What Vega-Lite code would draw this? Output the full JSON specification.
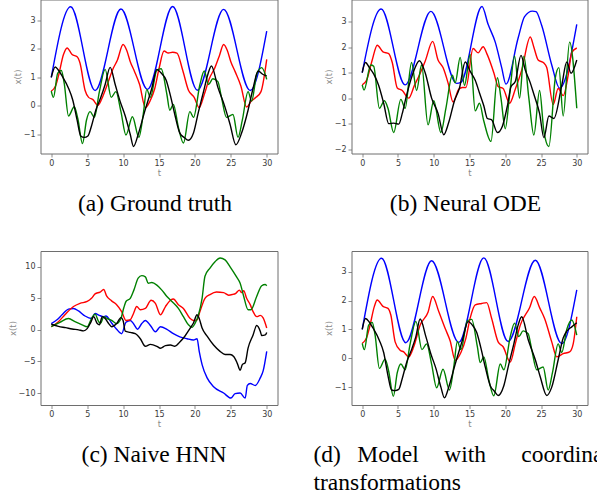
{
"$schema": "https://vega.github.io/schema/vega-lite/v6.json",
"background": "white",
"padding": {"left": 7.5, "top": -1.5, "right": 0, "bottom": 0},
"columns": 2,
"bounds": "flush",
"spacing": {"row": 97.5, "column": 74},
"config": {
  "view": {"stroke": "#6e6e6e", "strokeWidth": 1},
  "axis": {"grid": false, "domain": false, "tickColor": "#6e6e6e", "tickSize": 3.5, "tickWidth": 0.8, "labelFont": "DejaVu Sans", "labelFontSize": 8, "labelColor": "#3a3a3a", "labelPadding": 2, "titleFont": "DejaVu Sans", "titleFontSize": 8.5, "titleFontWeight": "normal", "titleColor": "#8a8a8a", "titlePadding": 1, "labelFlush": false, "labelOverlap": false},
  "title": {"orient": "bottom", "font": "Liberation Serif", "fontSize": 23.5, "fontWeight": "normal", "color": "#000000", "anchor": "middle", "frame": "group", "baseline": "alphabetic", "offset": 15}
},
"datasets": {
"a": [
{"s":"b","t":0,"v":1.0},{"s":"b","t":2.7,"v":3.47},{"s":"b","t":6.1,"v":0.54},{"s":"b","t":9.7,"v":3.39},{"s":"b","t":13.4,"v":0.58},{"s":"b","t":16.9,"v":3.48},{"s":"b","t":20.35,"v":0.55},{"s":"b","t":24.0,"v":3.38},{"s":"b","t":27.7,"v":0.54},{"s":"b","t":30,"v":2.62},
{"s":"r","t":0,"v":0.52},{"s":"r","t":0.6,"v":0.7},{"s":"r","t":1.0,"v":1.05},{"s":"r","t":1.7,"v":1.8},{"s":"r","t":2.2,"v":2.03},{"s":"r","t":2.9,"v":1.8},{"s":"r","t":3.6,"v":1.72},{"s":"r","t":4.0,"v":1.5},{"s":"r","t":4.7,"v":0.55},{"s":"r","t":5.2,"v":0.3},{"s":"r","t":5.8,"v":0.22},{"s":"r","t":6.5,"v":0.02},{"s":"r","t":7.2,"v":0.35},{"s":"r","t":7.8,"v":0.75},{"s":"r","t":8.6,"v":1.3},{"s":"r","t":9.2,"v":1.6},{"s":"r","t":10.0,"v":2.15},{"s":"r","t":10.5,"v":1.95},{"s":"r","t":11.0,"v":1.55},{"s":"r","t":11.6,"v":1.2},{"s":"r","t":12.3,"v":0.75},{"s":"r","t":13.1,"v":-0.06},{"s":"r","t":13.8,"v":0.2},{"s":"r","t":14.4,"v":0.6},{"s":"r","t":15.0,"v":1.3},{"s":"r","t":15.7,"v":1.92},{"s":"r","t":16.3,"v":1.85},{"s":"r","t":16.9,"v":1.88},{"s":"r","t":17.5,"v":1.85},{"s":"r","t":18.3,"v":1.25},{"s":"r","t":19.1,"v":0.55},{"s":"r","t":19.9,"v":0.3},{"s":"r","t":20.6,"v":-0.06},{"s":"r","t":21.3,"v":0.4},{"s":"r","t":22.0,"v":0.95},{"s":"r","t":22.8,"v":1.35},{"s":"r","t":23.4,"v":1.75},{"s":"r","t":24.0,"v":2.15},{"s":"r","t":24.5,"v":1.95},{"s":"r","t":25.0,"v":1.55},{"s":"r","t":25.6,"v":1.2},{"s":"r","t":26.4,"v":0.7},{"s":"r","t":27.2,"v":-0.04},{"s":"r","t":27.8,"v":0.15},{"s":"r","t":28.5,"v":0.3},{"s":"r","t":29.2,"v":0.5},{"s":"r","t":30,"v":1.63},
{"s":"g","t":0,"v":0.52},{"s":"g","t":0.3,"v":0.3},{"s":"g","t":0.9,"v":1.15},{"s":"g","t":1.4,"v":1.24},{"s":"g","t":1.8,"v":0.8},{"s":"g","t":2.4,"v":-0.35},{"s":"g","t":3.2,"v":-0.03},{"s":"g","t":3.7,"v":-0.45},{"s":"g","t":4.35,"v":-1.32},{"s":"g","t":4.9,"v":-0.5},{"s":"g","t":5.4,"v":-0.2},{"s":"g","t":6.0,"v":-0.4},{"s":"g","t":6.7,"v":0.5},{"s":"g","t":7.5,"v":1.28},{"s":"g","t":8.35,"v":0.3},{"s":"g","t":9.0,"v":0.5},{"s":"g","t":9.7,"v":-0.2},{"s":"g","t":10.4,"v":-1.02},{"s":"g","t":11.3,"v":-0.38},{"s":"g","t":12.2,"v":-1.1},{"s":"g","t":12.8,"v":-0.3},{"s":"g","t":13.3,"v":0.58},{"s":"g","t":13.8,"v":0.3},{"s":"g","t":14.7,"v":1.25},{"s":"g","t":15.3,"v":1.3},{"s":"g","t":16.1,"v":0.4},{"s":"g","t":16.5,"v":-0.15},{"s":"g","t":17.0,"v":0.05},{"s":"g","t":17.7,"v":-0.75},{"s":"g","t":18.4,"v":-1.3},{"s":"g","t":19.3,"v":-0.2},{"s":"g","t":19.8,"v":-0.4},{"s":"g","t":20.7,"v":0.75},{"s":"g","t":21.3,"v":1.22},{"s":"g","t":21.9,"v":0.75},{"s":"g","t":22.5,"v":0.95},{"s":"g","t":23.2,"v":0.85},{"s":"g","t":23.7,"v":0.3},{"s":"g","t":24.4,"v":-0.4},{"s":"g","t":25.3,"v":-0.3},{"s":"g","t":26.0,"v":-1.1},{"s":"g","t":26.6,"v":-0.5},{"s":"g","t":27.4,"v":0.5},{"s":"g","t":27.9,"v":0.17},{"s":"g","t":28.6,"v":1.1},{"s":"g","t":29.3,"v":1.34},{"s":"g","t":30,"v":0.93},
{"s":"k","t":0,"v":1.0},{"s":"k","t":0.55,"v":1.36},{"s":"k","t":1.0,"v":1.25},{"s":"k","t":1.5,"v":1.05},{"s":"k","t":2.4,"v":0.62},{"s":"k","t":3.0,"v":0.2},{"s":"k","t":3.6,"v":-0.5},{"s":"k","t":4.1,"v":-1.05},{"s":"k","t":4.6,"v":-1.1},{"s":"k","t":5.1,"v":-1.05},{"s":"k","t":5.6,"v":-0.7},{"s":"k","t":6.2,"v":-0.15},{"s":"k","t":6.9,"v":0.3},{"s":"k","t":7.5,"v":0.75},{"s":"k","t":8.2,"v":1.35},{"s":"k","t":8.9,"v":0.75},{"s":"k","t":9.6,"v":0.15},{"s":"k","t":10.3,"v":-0.35},{"s":"k","t":11.0,"v":-1.0},{"s":"k","t":11.45,"v":-1.42},{"s":"k","t":12.1,"v":-1.0},{"s":"k","t":13.0,"v":-0.2},{"s":"k","t":14.0,"v":0.62},{"s":"k","t":14.7,"v":1.28},{"s":"k","t":15.3,"v":1.15},{"s":"k","t":16.0,"v":0.9},{"s":"k","t":16.6,"v":0.35},{"s":"k","t":17.2,"v":-0.3},{"s":"k","t":17.9,"v":-0.95},{"s":"k","t":18.5,"v":-1.1},{"s":"k","t":19.1,"v":-1.2},{"s":"k","t":19.8,"v":-0.95},{"s":"k","t":20.5,"v":-0.2},{"s":"k","t":21.2,"v":0.5},{"s":"k","t":21.8,"v":1.1},{"s":"k","t":22.3,"v":1.4},{"s":"k","t":23.2,"v":0.65},{"s":"k","t":24.2,"v":-0.05},{"s":"k","t":24.9,"v":-0.65},{"s":"k","t":25.7,"v":-1.36},{"s":"k","t":26.5,"v":-0.95},{"s":"k","t":27.4,"v":-0.15},{"s":"k","t":28.1,"v":0.62},{"s":"k","t":28.8,"v":1.22},{"s":"k","t":29.5,"v":1.1},{"s":"k","t":30,"v":1.05}
],
"b": [
{"s":"b","t":0,"v":1.0},{"s":"b","t":2.65,"v":3.5},{"s":"b","t":6.0,"v":0.52},{"s":"b","t":9.6,"v":3.41},{"s":"b","t":13.2,"v":0.58},{"s":"b","t":13.8,"v":0.62},{"s":"b","t":16.75,"v":3.6},{"s":"b","t":17.6,"v":2.9},{"s":"b","t":18.6,"v":2.2},{"s":"b","t":19.5,"v":1.2},{"s":"b","t":20.1,"v":0.55},{"s":"b","t":21.8,"v":2.36},{"s":"b","t":22.7,"v":3.2},{"s":"b","t":23.8,"v":3.42},{"s":"b","t":24.3,"v":3.4},{"s":"b","t":25.1,"v":2.85},{"s":"b","t":26.5,"v":1.3},{"s":"b","t":27.6,"v":0.39},{"s":"b","t":30,"v":2.9},
{"s":"r","t":0,"v":0.52},{"s":"r","t":0.6,"v":0.7},{"s":"r","t":1.4,"v":1.5},{"s":"r","t":2.1,"v":2.08},{"s":"r","t":2.9,"v":1.82},{"s":"r","t":3.7,"v":1.75},{"s":"r","t":4.2,"v":1.4},{"s":"r","t":4.9,"v":0.4},{"s":"r","t":5.6,"v":0.3},{"s":"r","t":6.5,"v":0.0},{"s":"r","t":7.3,"v":0.5},{"s":"r","t":7.9,"v":0.85},{"s":"r","t":8.8,"v":1.45},{"s":"r","t":9.85,"v":2.23},{"s":"r","t":10.6,"v":1.5},{"s":"r","t":11.3,"v":1.2},{"s":"r","t":12.0,"v":0.6},{"s":"r","t":12.7,"v":-0.15},{"s":"r","t":13.5,"v":0.35},{"s":"r","t":14.0,"v":0.42},{"s":"r","t":14.5,"v":0.42},{"s":"r","t":15.5,"v":1.95},{"s":"r","t":16.2,"v":1.78},{"s":"r","t":16.9,"v":2.02},{"s":"r","t":17.5,"v":1.7},{"s":"r","t":18.4,"v":1.0},{"s":"r","t":19.0,"v":0.46},{"s":"r","t":19.7,"v":0.38},{"s":"r","t":20.6,"v":-0.2},{"s":"r","t":21.4,"v":0.35},{"s":"r","t":22.3,"v":1.1},{"s":"r","t":23.5,"v":2.4},{"s":"r","t":24.0,"v":2.0},{"s":"r","t":24.6,"v":1.5},{"s":"r","t":25.4,"v":1.38},{"s":"r","t":25.8,"v":1.2},{"s":"r","t":26.7,"v":-0.25},{"s":"r","t":27.4,"v":0.38},{"s":"r","t":28.1,"v":0.1},{"s":"r","t":28.8,"v":0.9},{"s":"r","t":29.3,"v":1.8},{"s":"r","t":30,"v":1.97},
{"s":"g","t":0,"v":0.52},{"s":"g","t":0.25,"v":0.32},{"s":"g","t":1.2,"v":1.3},{"s":"g","t":1.6,"v":1.25},{"s":"g","t":2.4,"v":-0.4},{"s":"g","t":3.1,"v":-0.1},{"s":"g","t":3.6,"v":-0.4},{"s":"g","t":4.4,"v":-1.35},{"s":"g","t":5.4,"v":-0.05},{"s":"g","t":6.0,"v":-0.4},{"s":"g","t":6.9,"v":1.4},{"s":"g","t":7.6,"v":0.3},{"s":"g","t":8.3,"v":1.3},{"s":"g","t":9.2,"v":-1.05},{"s":"g","t":10.0,"v":-0.1},{"s":"g","t":11.0,"v":-1.35},{"s":"g","t":11.7,"v":-0.4},{"s":"g","t":12.6,"v":0.9},{"s":"g","t":13.0,"v":0.6},{"s":"g","t":13.7,"v":1.6},{"s":"g","t":14.3,"v":0.5},{"s":"g","t":15.1,"v":1.72},{"s":"g","t":15.8,"v":-0.5},{"s":"g","t":16.4,"v":-0.2},{"s":"g","t":17.0,"v":-0.9},{"s":"g","t":18.0,"v":-1.7},{"s":"g","t":18.9,"v":0.8},{"s":"g","t":19.4,"v":0.0},{"s":"g","t":20.0,"v":-1.2},{"s":"g","t":20.6,"v":0.1},{"s":"g","t":21.3,"v":1.65},{"s":"g","t":22.0,"v":0.0},{"s":"g","t":22.6,"v":1.65},{"s":"g","t":23.3,"v":0.0},{"s":"g","t":24.0,"v":-1.45},{"s":"g","t":24.8,"v":0.3},{"s":"g","t":25.4,"v":-1.3},{"s":"g","t":26.1,"v":-1.9},{"s":"g","t":27.0,"v":0.8},{"s":"g","t":27.5,"v":1.2},{"s":"g","t":28.1,"v":-0.7},{"s":"g","t":29.0,"v":2.2},{"s":"g","t":30,"v":-0.4},
{"s":"k","t":0,"v":1.0},{"s":"k","t":0.45,"v":1.4},{"s":"k","t":1.0,"v":1.2},{"s":"k","t":1.6,"v":0.95},{"s":"k","t":2.3,"v":0.5},{"s":"k","t":3.0,"v":-0.2},{"s":"k","t":3.7,"v":-1.0},{"s":"k","t":4.4,"v":-0.98},{"s":"k","t":5.1,"v":-1.02},{"s":"k","t":5.6,"v":-0.6},{"s":"k","t":6.1,"v":0.0},{"s":"k","t":7.0,"v":0.9},{"s":"k","t":8.0,"v":1.47},{"s":"k","t":8.8,"v":1.0},{"s":"k","t":9.7,"v":0.0},{"s":"k","t":10.6,"v":-0.6},{"s":"k","t":11.4,"v":-1.44},{"s":"k","t":12.1,"v":-0.95},{"s":"k","t":12.9,"v":-0.1},{"s":"k","t":13.6,"v":0.4},{"s":"k","t":14.4,"v":1.42},{"s":"k","t":15.1,"v":1.05},{"s":"k","t":15.8,"v":0.7},{"s":"k","t":16.4,"v":0.2},{"s":"k","t":17.0,"v":-0.3},{"s":"k","t":17.5,"v":-0.8},{"s":"k","t":18.1,"v":-0.85},{"s":"k","t":18.9,"v":-1.35},{"s":"k","t":19.6,"v":-1.1},{"s":"k","t":20.3,"v":-0.3},{"s":"k","t":20.8,"v":0.45},{"s":"k","t":21.4,"v":0.65},{"s":"k","t":22.2,"v":1.68},{"s":"k","t":22.8,"v":1.1},{"s":"k","t":23.5,"v":0.6},{"s":"k","t":24.0,"v":0.15},{"s":"k","t":24.8,"v":-0.6},{"s":"k","t":25.4,"v":-1.55},{"s":"k","t":26.1,"v":-0.7},{"s":"k","t":26.8,"v":-0.8},{"s":"k","t":27.9,"v":0.5},{"s":"k","t":28.6,"v":1.42},{"s":"k","t":29.2,"v":0.98},{"s":"k","t":30,"v":1.5}
],
"c": [
{"s":"b","t":0,"v":1.0},{"s":"b","t":0.8,"v":1.6},{"s":"b","t":1.5,"v":2.4},{"s":"b","t":2.4,"v":3.3},{"s":"b","t":3.1,"v":3.4},{"s":"b","t":3.8,"v":3.0},{"s":"b","t":4.7,"v":2.2},{"s":"b","t":5.6,"v":1.8},{"s":"b","t":6.1,"v":2.6},{"s":"b","t":6.7,"v":2.3},{"s":"b","t":7.3,"v":2.1},{"s":"b","t":7.6,"v":2.2},{"s":"b","t":8.4,"v":1.1},{"s":"b","t":9.1,"v":0.1},{"s":"b","t":9.8,"v":-0.6},{"s":"b","t":10.4,"v":1.2},{"s":"b","t":11.0,"v":1.5},{"s":"b","t":11.5,"v":0.9},{"s":"b","t":12.0,"v":0.1},{"s":"b","t":12.6,"v":1.0},{"s":"b","t":13.1,"v":1.5},{"s":"b","t":13.8,"v":0.7},{"s":"b","t":14.5,"v":-0.3},{"s":"b","t":15.2,"v":0.5},{"s":"b","t":16.1,"v":0.1},{"s":"b","t":17.0,"v":-0.6},{"s":"b","t":17.9,"v":-1.1},{"s":"b","t":18.9,"v":-1.4},{"s":"b","t":19.8,"v":-1.6},{"s":"b","t":20.3,"v":-1.4},{"s":"b","t":20.6,"v":-3.4},{"s":"b","t":21.0,"v":-5.5},{"s":"b","t":21.7,"v":-7.6},{"s":"b","t":22.6,"v":-9.0},{"s":"b","t":24.0,"v":-10.0},{"s":"b","t":25.0,"v":-10.8},{"s":"b","t":25.6,"v":-10.1},{"s":"b","t":26.3,"v":-10.0},{"s":"b","t":27.0,"v":-10.8},{"s":"b","t":27.3,"v":-8.8},{"s":"b","t":27.7,"v":-8.5},{"s":"b","t":28.4,"v":-8.8},{"s":"b","t":29.1,"v":-7.6},{"s":"b","t":29.5,"v":-6.5},{"s":"b","t":30,"v":-3.4},
{"s":"r","t":0,"v":0.5},{"s":"r","t":1.0,"v":1.3},{"s":"r","t":1.9,"v":2.4},{"s":"r","t":3.1,"v":3.7},{"s":"r","t":4.0,"v":4.2},{"s":"r","t":5.0,"v":4.5},{"s":"r","t":5.6,"v":5.0},{"s":"r","t":6.1,"v":5.7},{"s":"r","t":6.8,"v":6.0},{"s":"r","t":7.3,"v":6.4},{"s":"r","t":7.7,"v":5.4},{"s":"r","t":8.4,"v":4.6},{"s":"r","t":9.1,"v":4.0},{"s":"r","t":9.8,"v":2.9},{"s":"r","t":10.4,"v":1.5},{"s":"r","t":11.0,"v":1.6},{"s":"r","t":11.45,"v":2.6},{"s":"r","t":11.9,"v":3.7},{"s":"r","t":12.4,"v":3.2},{"s":"r","t":13.1,"v":3.4},{"s":"r","t":13.9,"v":4.7},{"s":"r","t":14.5,"v":4.2},{"s":"r","t":15.2,"v":2.4},{"s":"r","t":15.9,"v":3.7},{"s":"r","t":16.6,"v":4.7},{"s":"r","t":17.0,"v":4.9},{"s":"r","t":17.7,"v":4.0},{"s":"r","t":18.4,"v":3.4},{"s":"r","t":19.3,"v":1.85},{"s":"r","t":19.8,"v":1.5},{"s":"r","t":20.3,"v":1.6},{"s":"r","t":20.7,"v":2.9},{"s":"r","t":21.4,"v":5.0},{"s":"r","t":22.1,"v":5.6},{"s":"r","t":23.0,"v":6.0},{"s":"r","t":24.0,"v":5.9},{"s":"r","t":24.7,"v":5.5},{"s":"r","t":25.2,"v":5.6},{"s":"r","t":25.7,"v":5.8},{"s":"r","t":26.2,"v":6.3},{"s":"r","t":26.5,"v":5.9},{"s":"r","t":26.8,"v":6.2},{"s":"r","t":27.2,"v":5.0},{"s":"r","t":27.7,"v":4.0},{"s":"r","t":28.1,"v":2.9},{"s":"r","t":28.6,"v":2.1},{"s":"r","t":29.1,"v":2.3},{"s":"r","t":29.5,"v":1.9},{"s":"r","t":30,"v":0.3},
{"s":"g","t":0,"v":0.5},{"s":"g","t":1.2,"v":1.2},{"s":"g","t":2.4,"v":1.8},{"s":"g","t":3.3,"v":1.3},{"s":"g","t":4.3,"v":0.8},{"s":"g","t":5.0,"v":0.5},{"s":"g","t":5.6,"v":1.8},{"s":"g","t":6.1,"v":2.5},{"s":"g","t":6.6,"v":1.3},{"s":"g","t":6.9,"v":1.1},{"s":"g","t":7.3,"v":2.1},{"s":"g","t":7.8,"v":1.8},{"s":"g","t":8.4,"v":1.5},{"s":"g","t":9.1,"v":1.0},{"s":"g","t":9.7,"v":1.8},{"s":"g","t":10.1,"v":3.5},{"s":"g","t":10.4,"v":4.5},{"s":"g","t":11.0,"v":5.0},{"s":"g","t":11.5,"v":6.3},{"s":"g","t":12.1,"v":8.2},{"s":"g","t":12.6,"v":8.6},{"s":"g","t":13.1,"v":8.4},{"s":"g","t":13.5,"v":7.4},{"s":"g","t":14.0,"v":7.5},{"s":"g","t":14.7,"v":7.1},{"s":"g","t":15.4,"v":6.3},{"s":"g","t":16.1,"v":5.3},{"s":"g","t":16.8,"v":4.5},{"s":"g","t":17.7,"v":3.4},{"s":"g","t":18.4,"v":2.1},{"s":"g","t":19.1,"v":0.8},{"s":"g","t":19.6,"v":0.4},{"s":"g","t":20.0,"v":1.0},{"s":"g","t":20.5,"v":2.4},{"s":"g","t":21.0,"v":5.0},{"s":"g","t":21.4,"v":8.5},{"s":"g","t":22.1,"v":9.8},{"s":"g","t":22.8,"v":10.8},{"s":"g","t":23.5,"v":11.4},{"s":"g","t":24.2,"v":11.1},{"s":"g","t":24.9,"v":10.0},{"s":"g","t":25.8,"v":8.4},{"s":"g","t":26.3,"v":7.4},{"s":"g","t":26.8,"v":5.3},{"s":"g","t":27.4,"v":3.2},{"s":"g","t":27.8,"v":3.2},{"s":"g","t":28.6,"v":5.3},{"s":"g","t":29.3,"v":7.0},{"s":"g","t":29.8,"v":7.2},{"s":"g","t":30,"v":7.0},
{"s":"k","t":0,"v":0.9},{"s":"k","t":1.0,"v":0.55},{"s":"k","t":2.0,"v":0.35},{"s":"k","t":2.9,"v":0.15},{"s":"k","t":3.8,"v":0.0},{"s":"k","t":4.5,"v":-0.15},{"s":"k","t":5.0,"v":0.2},{"s":"k","t":5.5,"v":1.2},{"s":"k","t":5.9,"v":2.1},{"s":"k","t":6.4,"v":1.0},{"s":"k","t":6.7,"v":0.8},{"s":"k","t":7.1,"v":2.1},{"s":"k","t":7.5,"v":1.8},{"s":"k","t":8.0,"v":1.0},{"s":"k","t":8.4,"v":0.5},{"s":"k","t":9.1,"v":1.0},{"s":"k","t":9.7,"v":1.95},{"s":"k","t":10.0,"v":1.5},{"s":"k","t":10.3,"v":-0.2},{"s":"k","t":11.0,"v":-0.4},{"s":"k","t":11.7,"v":-0.6},{"s":"k","t":12.4,"v":-1.4},{"s":"k","t":13.1,"v":-2.6},{"s":"k","t":13.8,"v":-2.3},{"s":"k","t":14.7,"v":-2.6},{"s":"k","t":15.2,"v":-2.9},{"s":"k","t":15.9,"v":-2.5},{"s":"k","t":16.6,"v":-2.4},{"s":"k","t":17.2,"v":-2.6},{"s":"k","t":17.9,"v":-1.9},{"s":"k","t":18.6,"v":-1.0},{"s":"k","t":19.3,"v":0.2},{"s":"k","t":19.8,"v":1.1},{"s":"k","t":20.3,"v":2.4},{"s":"k","t":20.6,"v":1.8},{"s":"k","t":21.0,"v":0.3},{"s":"k","t":21.7,"v":-1.0},{"s":"k","t":22.6,"v":-2.4},{"s":"k","t":23.5,"v":-3.4},{"s":"k","t":24.2,"v":-3.9},{"s":"k","t":24.9,"v":-3.9},{"s":"k","t":25.4,"v":-4.2},{"s":"k","t":25.9,"v":-5.3},{"s":"k","t":26.3,"v":-6.4},{"s":"k","t":26.6,"v":-5.5},{"s":"k","t":27.0,"v":-5.2},{"s":"k","t":27.4,"v":-2.9},{"s":"k","t":28.1,"v":-0.8},{"s":"k","t":28.6,"v":0.7},{"s":"k","t":29.1,"v":-0.2},{"s":"k","t":29.3,"v":-0.9},{"s":"k","t":29.8,"v":-0.8},{"s":"k","t":30,"v":-0.4}
],
"d": [
{"s":"b","t":0,"v":1.0},{"s":"b","t":2.7,"v":3.47},{"s":"b","t":6.1,"v":0.54},{"s":"b","t":9.7,"v":3.38},{"s":"b","t":13.5,"v":0.55},{"s":"b","t":17.0,"v":3.48},{"s":"b","t":20.4,"v":0.58},{"s":"b","t":24.2,"v":3.4},{"s":"b","t":27.9,"v":0.51},{"s":"b","t":30,"v":2.37},
{"s":"r","t":0,"v":0.52},{"s":"r","t":0.6,"v":0.7},{"s":"r","t":1.0,"v":1.05},{"s":"r","t":1.7,"v":1.8},{"s":"r","t":2.1,"v":2.02},{"s":"r","t":2.9,"v":1.8},{"s":"r","t":3.6,"v":1.73},{"s":"r","t":4.0,"v":1.5},{"s":"r","t":4.6,"v":0.57},{"s":"r","t":5.3,"v":0.28},{"s":"r","t":5.8,"v":0.22},{"s":"r","t":6.5,"v":0.05},{"s":"r","t":7.2,"v":0.4},{"s":"r","t":8.1,"v":1.15},{"s":"r","t":9.2,"v":1.6},{"s":"r","t":9.85,"v":2.14},{"s":"r","t":10.7,"v":1.62},{"s":"r","t":11.6,"v":1.03},{"s":"r","t":12.3,"v":0.6},{"s":"r","t":13.0,"v":-0.07},{"s":"r","t":13.8,"v":0.2},{"s":"r","t":14.5,"v":0.7},{"s":"r","t":15.1,"v":1.4},{"s":"r","t":15.8,"v":1.85},{"s":"r","t":16.7,"v":1.9},{"s":"r","t":17.4,"v":1.93},{"s":"r","t":18.1,"v":1.38},{"s":"r","t":19.0,"v":0.57},{"s":"r","t":19.7,"v":0.4},{"s":"r","t":20.7,"v":-0.13},{"s":"r","t":21.4,"v":0.5},{"s":"r","t":22.1,"v":1.15},{"s":"r","t":23.4,"v":1.75},{"s":"r","t":24.06,"v":2.14},{"s":"r","t":24.85,"v":1.73},{"s":"r","t":25.5,"v":1.38},{"s":"r","t":26.5,"v":0.57},{"s":"r","t":27.2,"v":0.05},{"s":"r","t":28.1,"v":0.16},{"s":"r","t":29.0,"v":0.22},{"s":"r","t":29.5,"v":0.5},{"s":"r","t":30,"v":1.44},
{"s":"g","t":0,"v":0.52},{"s":"g","t":0.3,"v":0.3},{"s":"g","t":0.9,"v":1.15},{"s":"g","t":1.4,"v":1.24},{"s":"g","t":1.8,"v":0.8},{"s":"g","t":2.4,"v":-0.35},{"s":"g","t":3.2,"v":-0.03},{"s":"g","t":3.7,"v":-0.45},{"s":"g","t":4.35,"v":-1.32},{"s":"g","t":4.9,"v":-0.5},{"s":"g","t":5.4,"v":-0.2},{"s":"g","t":6.0,"v":-0.4},{"s":"g","t":6.7,"v":0.5},{"s":"g","t":7.5,"v":1.28},{"s":"g","t":8.35,"v":0.3},{"s":"g","t":9.0,"v":0.5},{"s":"g","t":9.7,"v":-0.2},{"s":"g","t":10.4,"v":-1.02},{"s":"g","t":11.3,"v":-0.38},{"s":"g","t":12.2,"v":-1.1},{"s":"g","t":12.8,"v":-0.3},{"s":"g","t":13.3,"v":0.58},{"s":"g","t":13.8,"v":0.3},{"s":"g","t":14.7,"v":1.3},{"s":"g","t":15.3,"v":1.35},{"s":"g","t":16.1,"v":0.4},{"s":"g","t":16.5,"v":-0.15},{"s":"g","t":17.0,"v":0.05},{"s":"g","t":17.7,"v":-0.75},{"s":"g","t":18.4,"v":-1.3},{"s":"g","t":19.3,"v":-0.2},{"s":"g","t":19.8,"v":-0.4},{"s":"g","t":20.7,"v":0.75},{"s":"g","t":21.3,"v":1.22},{"s":"g","t":21.9,"v":0.75},{"s":"g","t":22.5,"v":0.95},{"s":"g","t":23.2,"v":0.85},{"s":"g","t":23.7,"v":0.3},{"s":"g","t":24.4,"v":-0.4},{"s":"g","t":25.3,"v":-0.3},{"s":"g","t":26.0,"v":-1.1},{"s":"g","t":26.6,"v":-0.5},{"s":"g","t":27.4,"v":0.5},{"s":"g","t":27.9,"v":0.2},{"s":"g","t":28.6,"v":1.0},{"s":"g","t":29.3,"v":1.33},{"s":"g","t":30,"v":0.8},
{"s":"k","t":0,"v":1.0},{"s":"k","t":0.46,"v":1.38},{"s":"k","t":1.0,"v":1.25},{"s":"k","t":1.5,"v":1.05},{"s":"k","t":2.4,"v":0.62},{"s":"k","t":3.0,"v":0.2},{"s":"k","t":3.6,"v":-0.6},{"s":"k","t":4.1,"v":-1.1},{"s":"k","t":4.6,"v":-1.12},{"s":"k","t":5.1,"v":-1.08},{"s":"k","t":5.6,"v":-0.7},{"s":"k","t":6.2,"v":-0.15},{"s":"k","t":6.9,"v":0.3},{"s":"k","t":7.5,"v":0.75},{"s":"k","t":8.1,"v":1.36},{"s":"k","t":8.9,"v":0.75},{"s":"k","t":9.6,"v":0.15},{"s":"k","t":10.3,"v":-0.35},{"s":"k","t":11.0,"v":-1.0},{"s":"k","t":11.5,"v":-1.37},{"s":"k","t":12.1,"v":-1.0},{"s":"k","t":13.0,"v":-0.2},{"s":"k","t":14.0,"v":0.62},{"s":"k","t":14.8,"v":1.27},{"s":"k","t":15.4,"v":1.15},{"s":"k","t":16.0,"v":0.9},{"s":"k","t":16.6,"v":0.35},{"s":"k","t":17.2,"v":-0.3},{"s":"k","t":17.9,"v":-0.95},{"s":"k","t":18.5,"v":-1.15},{"s":"k","t":19.0,"v":-1.29},{"s":"k","t":19.8,"v":-0.95},{"s":"k","t":20.5,"v":-0.2},{"s":"k","t":21.2,"v":0.5},{"s":"k","t":21.8,"v":1.15},{"s":"k","t":22.3,"v":1.44},{"s":"k","t":23.2,"v":0.65},{"s":"k","t":24.2,"v":-0.05},{"s":"k","t":24.9,"v":-0.65},{"s":"k","t":25.8,"v":-1.29},{"s":"k","t":26.5,"v":-1.0},{"s":"k","t":27.4,"v":-0.05},{"s":"k","t":28.1,"v":0.7},{"s":"k","t":28.6,"v":0.94},{"s":"k","t":29.3,"v":1.09},{"s":"k","t":30,"v":1.23}
]
},
"concat": [
{
  "width": 237, "height": 154,
  "data": {"name": "a"},
  "title": {"text": "(a) Ground truth", "dx": -4},
  "mark": {"type": "line", "interpolate": "monotone", "strokeWidth": 1.4},
  "encoding": {
    "x": {"field": "t", "type": "quantitative", "scale": {"domain": [-1.5, 31.5], "nice": false, "zero": false}, "axis": {"values": [0,5,10,15,20,25,30], "title": "t"}},
    "y": {"field": "v", "type": "quantitative", "scale": {"domain": [-1.665, 3.725], "nice": false, "zero": false}, "axis": {"values": [-1,0,1,2,3], "title": "x(t)"}},
    "color": {"field": "s", "type": "nominal", "scale": {"domain": ["b","r","g","k"], "range": ["#0000ff","#ff0000","#008000","#000000"]}, "legend": null}
  }
},
{
  "width": 236, "height": 154,
  "data": {"name": "b"},
  "title": {"text": "(b) Neural ODE", "dx": -4},
  "mark": {"type": "line", "interpolate": "monotone", "strokeWidth": 1.4},
  "encoding": {
    "x": {"field": "t", "type": "quantitative", "scale": {"domain": [-1.5, 31.5], "nice": false, "zero": false}, "axis": {"values": [0,5,10,15,20,25,30], "title": "t"}},
    "y": {"field": "v", "type": "quantitative", "scale": {"domain": [-2.175, 3.875], "nice": false, "zero": false}, "axis": {"values": [-2,-1,0,1,2,3], "title": "x(t)"}},
    "color": {"field": "s", "type": "nominal", "scale": {"domain": ["b","r","g","k"], "range": ["#0000ff","#ff0000","#008000","#000000"]}, "legend": null}
  }
},
{
  "width": 237, "height": 154,
  "data": {"name": "c"},
  "title": {"text": "(c) Naive HNN", "dx": -5},
  "mark": {"type": "line", "interpolate": "monotone", "strokeWidth": 1.4},
  "encoding": {
    "x": {"field": "t", "type": "quantitative", "scale": {"domain": [-1.5, 31.5], "nice": false, "zero": false}, "axis": {"values": [0,5,10,15,20,25,30], "title": "t"}},
    "y": {"field": "v", "type": "quantitative", "scale": {"domain": [-11.9, 12.5], "nice": false, "zero": false}, "axis": {"values": [-10,-5,0,5,10], "title": "x(t)"}},
    "color": {"field": "s", "type": "nominal", "scale": {"domain": ["b","r","g","k"], "range": ["#0000ff","#ff0000","#008000","#000000"]}, "legend": null}
  }
},
{
  "width": 236, "height": 154,
  "data": {"name": "d"},
  "title": {"text": ["(d)\u2002\u2009Model\u2003\u200awith\u2003\u2002coordinate", "transformations"], "anchor": "start", "align": "left", "dx": -38, "lineHeight": 28},
  "mark": {"type": "line", "interpolate": "monotone", "strokeWidth": 1.4},
  "encoding": {
    "x": {"field": "t", "type": "quantitative", "scale": {"domain": [-1.5, 31.5], "nice": false, "zero": false}, "axis": {"values": [0,5,10,15,20,25,30], "title": "t"}},
    "y": {"field": "v", "type": "quantitative", "scale": {"domain": [-1.62, 3.72], "nice": false, "zero": false}, "axis": {"values": [-1,0,1,2,3], "title": "x(t)"}},
    "color": {"field": "s", "type": "nominal", "scale": {"domain": ["b","r","g","k"], "range": ["#0000ff","#ff0000","#008000","#000000"]}, "legend": null}
  }
}
]
}
